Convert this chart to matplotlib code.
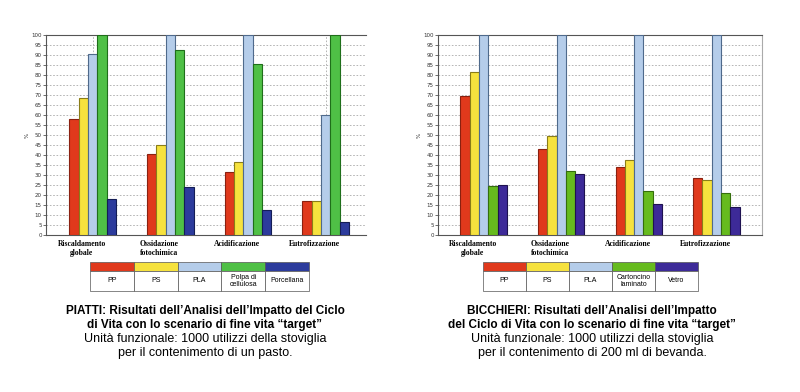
import numpy as np
import matplotlib.pyplot as plt
from matplotlib.patches import Rectangle

categories = ["Riscaldamento\nglobale", "Ossidazione\nfotochimica",
              "Acidificazione", "Eutrofizzazione"]

# PIATTI
piatti_materials = ["PP", "PS", "PLA", "Polpa di\ncellulosa", "Porcellana"]
piatti_pp = [58, 40.5, 31.5, 17]
piatti_ps = [68.5, 45, 36.5, 17]
piatti_pla = [90.5, 100, 100, 60]
piatti_polpa = [100, 92.5, 85.5, 100]
piatti_porcellana = [18, 24, 12.5, 6.5]

# BICCHIERI
bicchieri_materials = ["PP", "PS", "PLA", "Cartoncino\nlaminato", "Vetro"]
bicchieri_pp = [69.5, 43, 34, 28.5]
bicchieri_ps = [81.5, 49.5, 37.5, 27.5]
bicchieri_pla = [100, 100, 100, 100]
bicchieri_cartoncino = [24.5, 32, 22, 21]
bicchieri_vetro = [25, 30.5, 15.5, 14]

piatti_colors = ["#e0391c", "#f6e23e", "#b5cdea", "#4fc046", "#2c3b9c"]
piatti_edges = ["#8a2010", "#8a7d18", "#4f6a8c", "#1f6e1a", "#141d55"]
bicchieri_colors = ["#e0391c", "#f6e23e", "#b5cdea", "#66bb1e", "#3d2a98"]
bicchieri_edges = ["#8a2010", "#8a7d18", "#4f6a8c", "#356e0c", "#1e1250"]

piatti_title = ["PIATTI: Risultati dell\u2019Analisi dell\u2019Impatto del Ciclo",
                "di Vita con lo scenario di fine vita \u201ctarget\u201d"]
piatti_sub = ["Unità funzionale: 1000 utilizzi della stoviglia",
              "per il contenimento di un pasto."]
bicchieri_title = ["BICCHIERI: Risultati dell\u2019Analisi dell\u2019Impatto",
                   "del Ciclo di Vita con lo scenario di fine vita \u201ctarget\u201d"]
bicchieri_sub = ["Unità funzionale: 1000 utilizzi della stoviglia",
                 "per il contenimento di 200 ml di bevanda."]

W, H = 800, 392
fig = plt.figure(figsize=(8, 3.92), dpi=100)


def px(x0, y0, x1, y1):
    return [x0 / W, 1 - y1 / H, (x1 - x0) / W, (y1 - y0) / H]


def draw_chart(ax, series, colors, edges, xlim, right_spine):
    x = np.arange(len(categories))
    w = 0.12
    ax.set_axisbelow(True)
    for i, vals in enumerate(series):
        ax.bar(x + (i - 2) * w, vals, w, color=colors[i], edgecolor=edges[i],
               linewidth=0.8, zorder=3)
    ax.set_xlim(*xlim)
    ax.set_ylim(0, 100)
    ax.set_yticks(np.arange(0, 101, 5))
    ax.set_xticks(x)
    ax.set_xticklabels([])
    ax.tick_params(axis='x', length=0)
    ax.tick_params(axis='y', labelsize=4, length=2, width=0.5, pad=1,
                   colors='#333333')
    ax.grid(True, axis='both', linestyle=(0, (2, 2)), color='#aaaaaa',
            linewidth=0.6)
    for s in ['left', 'bottom', 'top']:
        ax.spines[s].set_color('#555555')
        ax.spines[s].set_linewidth(0.8)
    ax.spines['right'].set_visible(right_spine)
    ax.spines['right'].set_color('#aaaaaa')
    ax.set_ylabel('%', fontsize=4, labelpad=1, color='#333333')
    for i, c in enumerate(categories):
        ax.text(i - 0.14, -0.025, c, transform=ax.get_xaxis_transform(),
                ha='center', va='top', fontsize=5.5, fontweight='bold',
                family='Liberation Serif', linespacing=1.1)


def draw_legend(x0, x1, labels, colors):
    n = len(labels)
    cw = (x1 - x0) / n
    for i in range(n):
        fig.patches.append(Rectangle((((x0 + i * cw) / W), 1 - 271 / H),
                                     cw / W, 9 / H, transform=fig.transFigure,
                                     facecolor=colors[i], edgecolor='#555555',
                                     linewidth=0.5))
        fig.patches.append(Rectangle((((x0 + i * cw) / W), 1 - 291 / H),
                                     cw / W, 20 / H, transform=fig.transFigure,
                                     facecolor='white', edgecolor='#555555',
                                     linewidth=0.5))
        fig.text((x0 + (i + 0.5) * cw) / W, 1 - 281 / H, labels[i],
                 ha='center', va='center', fontsize=5, family='Liberation Sans',
                 linespacing=0.95)


def draw_caption(xc, title, sub):
    baselines = [314, 328, 342, 356]
    lines = [(t, 'bold', 8.5) for t in title] + [(t, 'normal', 9) for t in sub]
    for (t, weight, size), yb in zip(lines, baselines):
        fig.text(xc / W, 1 - yb / H, t, ha='center', va='baseline',
                 fontsize=size, fontweight=weight, family='Liberation Sans')


ax1 = fig.add_axes(px(46, 35, 366, 235))
draw_chart(ax1, [piatti_pp, piatti_ps, piatti_pla, piatti_polpa, piatti_porcellana],
           piatti_colors, piatti_edges, (-0.6, 3.52), False)
ax2 = fig.add_axes(px(438, 35, 762, 235))
draw_chart(ax2, [bicchieri_pp, bicchieri_ps, bicchieri_pla, bicchieri_cartoncino,
                 bicchieri_vetro],
           bicchieri_colors, bicchieri_edges, (-0.59, 3.59), True)

draw_legend(90, 309, piatti_materials, piatti_colors)
draw_legend(483, 698, bicchieri_materials, bicchieri_colors)

draw_caption(205, piatti_title, piatti_sub)
draw_caption(592, bicchieri_title, bicchieri_sub)

fig.savefig('out.png', dpi=100, facecolor='white')
